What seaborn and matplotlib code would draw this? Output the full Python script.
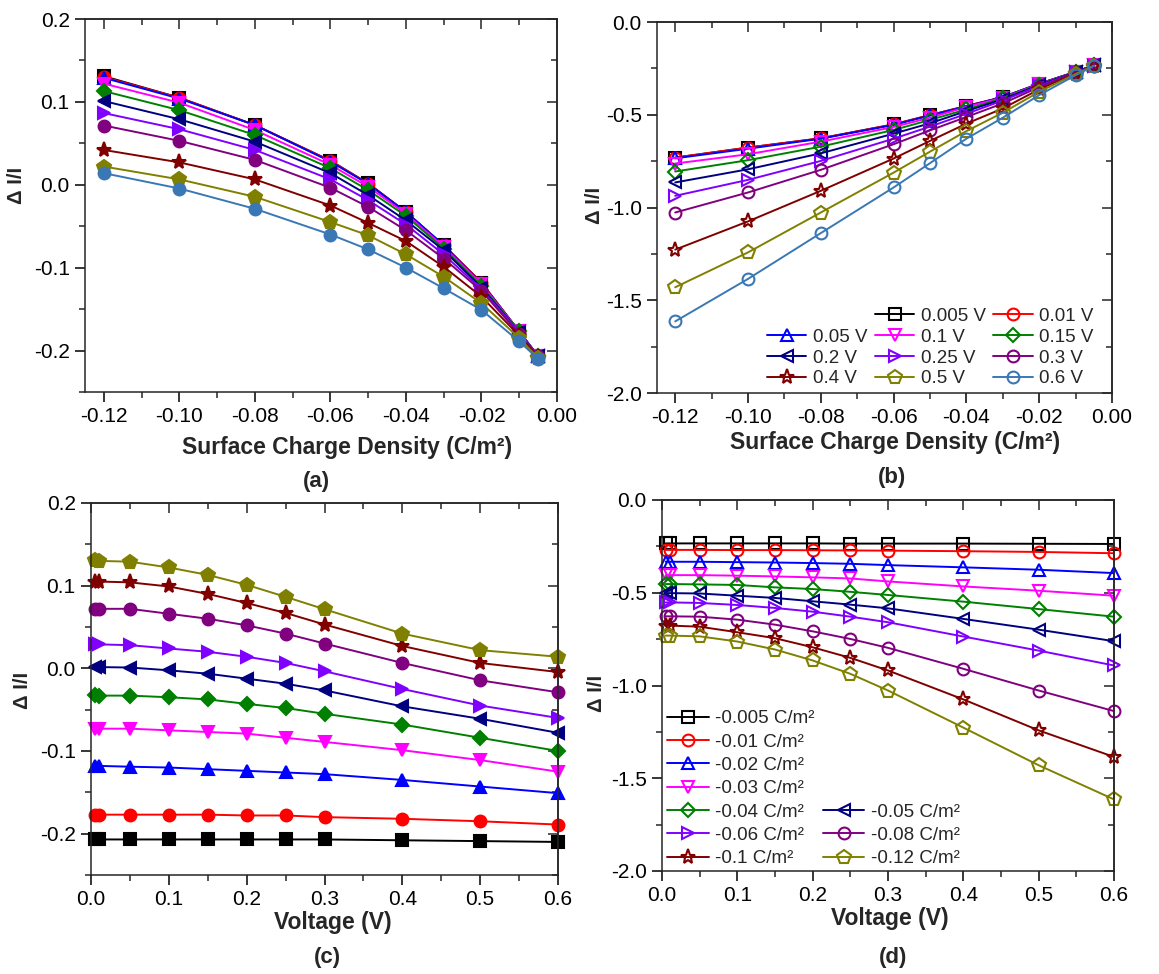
import numpy as np
import matplotlib
matplotlib.use('Agg')
import matplotlib.pyplot as plt
import seaborn as sns
from matplotlib.lines import Line2D
from matplotlib.ticker import MultipleLocator, FormatStrFormatter

# x values
voltages = [0.005, 0.01, 0.05, 0.1, 0.15, 0.2, 0.25, 0.3, 0.4, 0.5, 0.6]
sigmas = [-0.12, -0.1, -0.08, -0.06, -0.05, -0.04, -0.03, -0.02, -0.01, -0.005]

# set 1 (filled markers, panels a and c): dI/I vs voltage, one list per charge density
s1_m0120 = [0.131, 0.130, 0.129, 0.122, 0.113, 0.101, 0.0865, 0.0715, 0.042, 0.022, 0.014]
s1_m0100 = [0.105, 0.105, 0.104, 0.099, 0.090, 0.079, 0.067, 0.053, 0.027, 0.0065, -0.0045]
s1_m0080 = [0.072, 0.072, 0.072, 0.066, 0.060, 0.052, 0.042, 0.030, 0.0065, -0.0145, -0.029]
s1_m0060 = [0.029, 0.029, 0.028, 0.024, 0.020, 0.014, 0.0065, -0.0036, -0.025, -0.045, -0.060]
s1_m0050 = [0.0016, 0.0015, 0.001, -0.0024, -0.0065, -0.0125, -0.0186, -0.0267, -0.046, -0.061, -0.078]
s1_m0040 = [-0.0327, -0.033, -0.033, -0.035, -0.0376, -0.043, -0.048, -0.055, -0.068, -0.084, -0.100]
s1_m0030 = [-0.073, -0.073, -0.073, -0.075, -0.077, -0.079, -0.084, -0.089, -0.099, -0.111, -0.125]
s1_m0020 = [-0.118, -0.118, -0.119, -0.120, -0.122, -0.124, -0.126, -0.128, -0.135, -0.143, -0.151]
s1_m0010 = [-0.177, -0.177, -0.177, -0.177, -0.177, -0.178, -0.178, -0.180, -0.182, -0.185, -0.189]
s1_m0005 = [-0.207, -0.207, -0.207, -0.207, -0.207, -0.207, -0.207, -0.207, -0.208, -0.209, -0.210]

# set 2 (open markers, panels b and d)
s2_m0120 = [-0.731, -0.731, -0.735, -0.763, -0.806, -0.865, -0.937, -1.027, -1.227, -1.430, -1.614]
s2_m0100 = [-0.677, -0.677, -0.683, -0.713, -0.745, -0.794, -0.851, -0.919, -1.075, -1.242, -1.385]
s2_m0080 = [-0.627, -0.627, -0.629, -0.645, -0.672, -0.708, -0.749, -0.797, -0.910, -1.027, -1.138]
s2_m0060 = [-0.552, -0.552, -0.555, -0.566, -0.582, -0.602, -0.629, -0.659, -0.736, -0.812, -0.892]
s2_m0050 = [-0.502, -0.502, -0.504, -0.516, -0.528, -0.546, -0.564, -0.584, -0.641, -0.699, -0.761]
s2_m0040 = [-0.453, -0.453, -0.455, -0.458, -0.471, -0.480, -0.495, -0.512, -0.548, -0.588, -0.629]
s2_m0030 = [-0.405, -0.405, -0.405, -0.408, -0.412, -0.417, -0.423, -0.439, -0.466, -0.489, -0.516]
s2_m0020 = [-0.333, -0.333, -0.333, -0.335, -0.337, -0.340, -0.344, -0.351, -0.363, -0.376, -0.394]
s2_m0010 = [-0.269, -0.269, -0.269, -0.270, -0.270, -0.271, -0.272, -0.273, -0.276, -0.280, -0.287]
s2_m0005 = [-0.234, -0.234, -0.234, -0.234, -0.234, -0.234, -0.235, -0.235, -0.235, -0.236, -0.237]

v_labels = ['0.005 V', '0.01 V', '0.05 V', '0.1 V', '0.15 V', '0.2 V',
            '0.25 V', '0.3 V', '0.4 V', '0.5 V', '0.6 V']
s_labels = ['-0.005 C/m²', '-0.01 C/m²', '-0.02 C/m²', '-0.03 C/m²', '-0.04 C/m²',
            '-0.05 C/m²', '-0.06 C/m²', '-0.08 C/m²', '-0.1 C/m²', '-0.12 C/m²']

colors = ['#000000', '#FF0000', '#0000FF', '#FF00FF', '#008000', '#000080',
          '#8000FF', '#800080', '#800000', '#808000', '#3A78B5']
markers = ['s', 'o', '^', 'v', 'D', '<', '>', 'o', '*', 'p', 'o']
msizes = [8, 8.5, 9, 9, 7, 9, 9, 8.5, 11, 10, 8.5]

# rows follow the sigmas order
set1 = np.array([s1_m0120, s1_m0100, s1_m0080, s1_m0060, s1_m0050,
                 s1_m0040, s1_m0030, s1_m0020, s1_m0010, s1_m0005])
set2 = np.array([s2_m0120, s2_m0100, s2_m0080, s2_m0060, s2_m0050,
                 s2_m0040, s2_m0030, s2_m0020, s2_m0010, s2_m0005])

sns.set_style('ticks')
plt.rcParams['font.family'] = ['Liberation Sans', 'DejaVu Sans']
plt.rcParams['axes.linewidth'] = 1.1

W, H = 1159, 974
fig = plt.figure(figsize=(W / 100, H / 100), dpi=100)


def rect(l, t, r, b):
    return [l / W, 1 - b / H, (r - l) / W, (b - t) / H]


def draw(ax, x, y, k, filled):
    c = colors[k]
    sns.lineplot(x=x, y=y, ax=ax, color=c, marker=markers[k], markersize=msizes[k],
                 markeredgecolor=c, markerfacecolor=c if filled else 'none',
                 markeredgewidth=1.5, linewidth=1.4, legend=False,
                 sort=False, estimator=None, clip_on=False)


def style_axes(ax, xmaj, xfmt, ymaj, yfmt):
    ax.xaxis.set_major_locator(MultipleLocator(xmaj))
    ax.xaxis.set_minor_locator(MultipleLocator(xmaj / 2))
    ax.yaxis.set_major_locator(MultipleLocator(ymaj))
    ax.yaxis.set_minor_locator(MultipleLocator(ymaj / 2))
    ax.xaxis.set_major_formatter(FormatStrFormatter(xfmt))
    ax.yaxis.set_major_formatter(FormatStrFormatter(yfmt))
    ax.tick_params(which='major', direction='out', length=7, width=1.1, pad=4,
                   labelsize=15, colors='black')
    ax.tick_params(which='minor', direction='out', length=4, width=1.1)
    for sp in ax.spines.values():
        sp.set_visible(True)
        sp.set_linewidth(1.1)
    # mirrored inward ticks on top and right
    top = ax.secondary_xaxis('top')
    right = ax.secondary_yaxis('right')
    top.xaxis.set_major_locator(MultipleLocator(xmaj))
    top.xaxis.set_minor_locator(MultipleLocator(xmaj / 2))
    right.yaxis.set_major_locator(MultipleLocator(ymaj))
    right.yaxis.set_minor_locator(MultipleLocator(ymaj / 2))
    top.tick_params(which='major', direction='in', length=7, width=1.1, labeltop=False)
    top.tick_params(which='minor', direction='in', length=4, width=1.1)
    right.tick_params(which='major', direction='in', length=7, width=1.1, labelright=False)
    right.tick_params(which='minor', direction='in', length=4, width=1.1)


def labels(ax, xl, xc, yc_x, yc_y, xl_y, panel, px, py):
    ax.set_xlabel(xl, fontsize=16.5, fontweight='bold')
    ax.set_ylabel('Δ I/I', fontsize=14.5, fontweight='bold')
    ax.xaxis.set_label_coords(xc / W, 1 - xl_y / H, transform=fig.transFigure)
    ax.xaxis.label.set_va('center')
    ax.yaxis.set_label_coords(yc_x / W, 1 - yc_y / H, transform=fig.transFigure)
    ax.yaxis.label.set_va('center')
    fig.text(px / W, 1 - py / H, panel, fontsize=16, fontweight='bold',
             ha='center', va='center')


# (a)
ax_a = fig.add_axes(rect(85, 19, 557, 392))
for j in range(len(voltages)):
    draw(ax_a, sigmas, set1[:, j], j, True)
ax_a.set_xlim(-0.125, 0.0)
ax_a.set_ylim(-0.25, 0.2)
style_axes(ax_a, 0.02, '%.2f', 0.1, '%.1f')
labels(ax_a, 'Surface Charge Density (C/m²)', 347, 17, 185, 448, '(a)', 316, 481)

# (b)
ax_b = fig.add_axes(rect(657, 22, 1112, 393))
for j in range(len(voltages)):
    draw(ax_b, sigmas, set2[:, j], j, False)
ax_b.set_xlim(-0.125, 0.0)
ax_b.set_ylim(-2.0, 0.0)
style_axes(ax_b, 0.02, '%.2f', 0.5, '%.1f')
labels(ax_b, 'Surface Charge Density (C/m²)', 895, 595, 205, 443, '(b)', 892, 478)

hb = [Line2D([], [], color='none', label=' ')]
for j, lab in enumerate(v_labels):
    hb.append(Line2D([], [], color=colors[j], marker=markers[j], markersize=msizes[j],
                     mfc='none', mec=colors[j], mew=1.5, lw=1.4, label=lab))
# column-major filling: col1 = blank,0.05,0.2,0.4 ; col2 = 0.005,0.1,0.25,0.5 ; col3 = 0.01,0.15,0.3,0.6
order = [0, 3, 6, 9, 1, 4, 7, 10, 2, 5, 8, 11]
hb = [hb[i] for i in order]
ax_b.legend(handles=hb, ncol=3, loc='lower right', bbox_to_anchor=(0.96, 0.015),
            frameon=False, fontsize=13.5, handlelength=2.1, handletextpad=0.35,
            columnspacing=0.4, labelspacing=0.2, borderpad=0, borderaxespad=0)

# (c)
ax_c = fig.add_axes(rect(91, 503, 558, 875))
s_order = list(range(len(sigmas)))[::-1]   # -0.005 first
for k, i in enumerate(s_order):
    draw(ax_c, voltages, set1[i, :], k, True)
ax_c.set_xlim(0.0, 0.6)
ax_c.set_ylim(-0.25, 0.2)
style_axes(ax_c, 0.1, '%.1f', 0.1, '%.1f')
labels(ax_c, 'Voltage (V)', 333, 22, 690, 923, '(c)', 327, 957)

# (d)
ax_d = fig.add_axes(rect(662, 500, 1114, 871))
for k, i in enumerate(s_order):
    draw(ax_d, voltages, set2[i, :], k, False)
ax_d.set_xlim(0.0, 0.6)
ax_d.set_ylim(-2.0, 0.0)
style_axes(ax_d, 0.1, '%.1f', 0.5, '%.1f')
labels(ax_d, 'Voltage (V)', 890, 597, 693, 918, '(d)', 893, 957)

hd = []
for k, lab in enumerate(s_labels):
    hd.append(Line2D([], [], color=colors[k], marker=markers[k], markersize=msizes[k],
                     mfc='none', mec=colors[k], mew=1.5, lw=1.4, label=lab))
blank = Line2D([], [], color='none', label=' ')
# col1: -0.005..-0.04, -0.06, -0.1 ; col2: 4 blanks, -0.05, -0.08, -0.12
hd = [hd[0], hd[1], hd[2], hd[3], hd[4], hd[6], hd[8],
      blank, blank, blank, blank, hd[5], hd[7], hd[9]]
ax_d.legend(handles=hd, ncol=2, loc='lower left', bbox_to_anchor=(0.012, 0.01),
            frameon=False, fontsize=13.5, handlelength=2.2, handletextpad=0.35,
            columnspacing=0.45, labelspacing=0.33, borderpad=0, borderaxespad=0)

fig.savefig('out.png', dpi=100)
